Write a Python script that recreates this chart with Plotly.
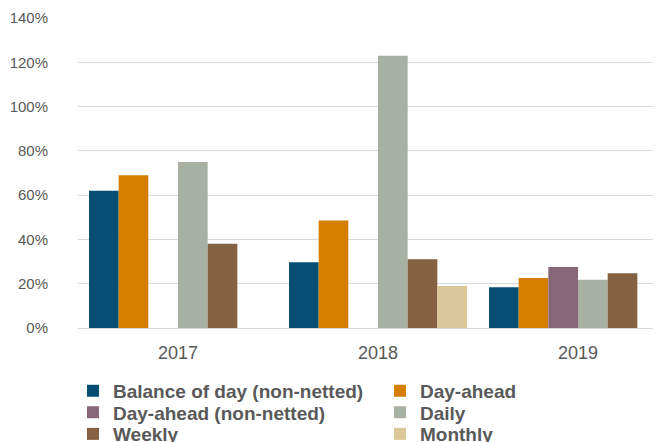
import plotly.graph_objects as go

years = ["2017", "2018", "2019"]

series_names = [
    "Balance of day (non-netted)",
    "Day-ahead",
    "Day-ahead (non-netted)",
    "Daily",
    "Weekly",
    "Monthly",
]
balance_of_day = [62, 29.7, 18.4]
day_ahead = [69, 48.6, 22.6]
day_ahead_non_netted = [None, None, 27.6]
daily = [75, 123, 21.8]
weekly = [38, 31, 24.7]
monthly = [None, 19, None]

colors = ["#034e72", "#d67e00", "#876677", "#a7b0a3", "#846140", "#dcc79b"]

# two legend entries per row, one legend object per row
legend_rows = ["legend", "legend", "legend2", "legend2", "legend3", "legend3"]
row_y = [-0.203, -0.2725, -0.342]

fig = go.Figure()

all_values = [balance_of_day, day_ahead, day_ahead_non_netted, daily, weekly, monthly]
for name, vals, col, lg in zip(series_names, all_values, colors, legend_rows):
    fig.add_trace(
        go.Bar(
            x=years,
            y=vals,
            name=name,
            marker_color=col,
            marker_line_width=0,
            legend=lg,
        )
    )

legend_font = dict(size=19, color="#595959", family="Liberation Sans, Arial, sans-serif", weight="bold")


def row_legend(y):
    return dict(
        orientation="h",
        x=-0.0086,
        xanchor="left",
        y=y,
        yanchor="middle",
        entrywidth=262,
        entrywidthmode="pixels",
        font=legend_font,
        itemwidth=30,
        bgcolor="rgba(0,0,0,0)",
    )


fig.update_layout(
    width=653,
    height=434,
    margin=dict(l=70, r=0, t=10, b=114, autoexpand=False),
    paper_bgcolor="white",
    plot_bgcolor="white",
    barmode="group",
    bargap=0.11,
    bargroupgap=0,
    font=dict(family="Liberation Sans, Arial, sans-serif", size=15, color="#595959"),
    showlegend=True,
    legend=row_legend(row_y[0]),
    legend2=row_legend(row_y[1]),
    legend3=row_legend(row_y[2]),
)

fig.update_xaxes(
    type="category",
    range=[-0.5, 2.415],
    showline=True,
    linecolor="#d9d9d9",
    linewidth=1,
    ticks="outside",
    ticklen=8,
    tickcolor="rgba(0,0,0,0)",
    tickfont=dict(size=18),
    showgrid=False,
)

fig.update_yaxes(
    range=[0, 140],
    dtick=20,
    ticksuffix="%",
    showgrid=True,
    gridcolor="#d9d9d9",
    gridwidth=1,
    zeroline=False,
    ticks="outside",
    ticklen=26,
    tickcolor="rgba(0,0,0,0)",
)

fig.write_html("out.html")
